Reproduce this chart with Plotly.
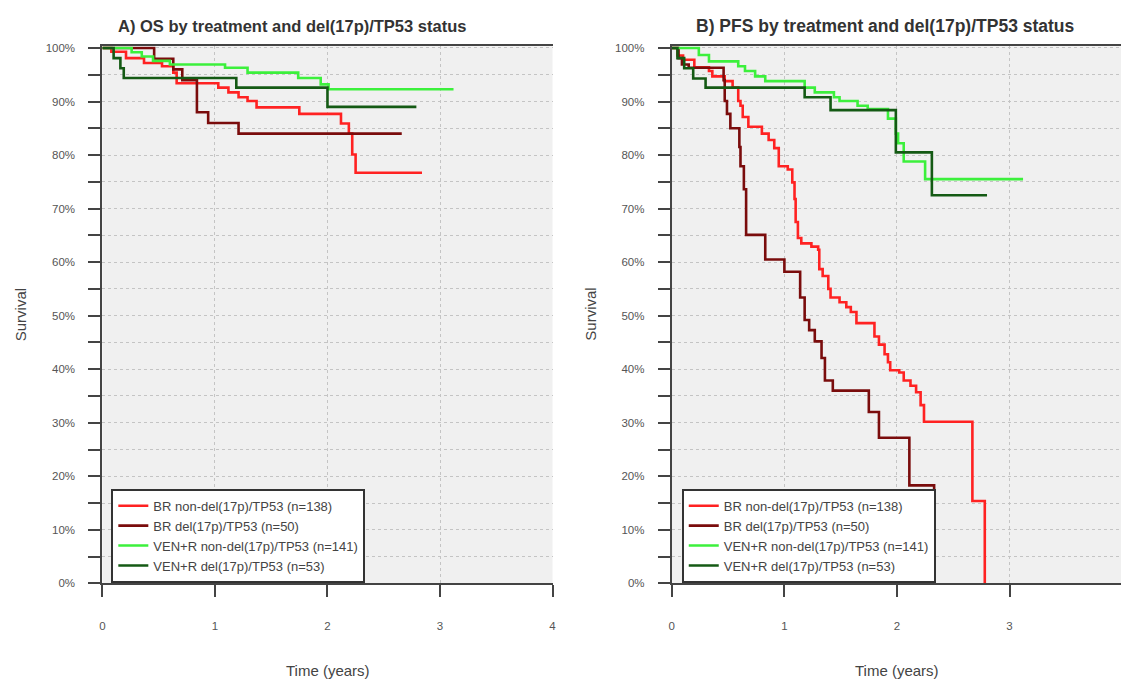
import plotly.graph_objects as go

# ---------------- data ----------------
series_names = [
    "BR non-del(17p)/TP53 (n=138)",
    "BR del(17p)/TP53 (n=50)",
    "VEN+R non-del(17p)/TP53 (n=141)",
    "VEN+R del(17p)/TP53 (n=53)",
]
series_colors = ["#ff2222", "#7a0c0c", "#3cf03c", "#145a14"]

# Panel A: OS (time in years, survival %)
os_br_nondel_t = [0, 0.08, 0.21, 0.37, 0.53, 0.63, 0.66, 1.03, 1.12, 1.21, 1.29, 1.37, 1.75, 2.12, 2.19, 2.22, 2.25, 2.84]
os_br_nondel_s = [100, 99.3, 98.1, 97.2, 96.6, 95.4, 93.4, 92.6, 91.7, 90.8, 90.1, 88.9, 87.7, 85.9, 84.0, 80.1, 76.7, 76.7]
os_br_del_t = [0, 0.46, 0.63, 0.71, 0.84, 0.94, 1.21, 2.66]
os_br_del_s = [100, 98.0, 96.0, 94.0, 88.0, 86.0, 84.0, 84.0]
os_ven_nondel_t = [0, 0.26, 0.35, 0.45, 0.60, 1.09, 1.29, 1.74, 1.94, 2.01, 3.12]
os_ven_nondel_s = [100, 99.2, 98.4, 97.6, 96.9, 96.3, 95.4, 94.4, 93.2, 92.3, 92.3]
os_ven_del_t = [0, 0.10, 0.16, 0.19, 1.19, 2.00, 2.79]
os_ven_del_s = [100, 98.1, 96.2, 94.4, 92.6, 89.0, 89.0]

# Panel B: PFS
pfs_br_nondel_t = [0, 0.05, 0.10, 0.20, 0.33, 0.36, 0.47, 0.54, 0.59, 0.61, 0.63, 0.68, 0.80, 0.86, 0.91,
                   0.95, 1.03, 1.07, 1.09, 1.10, 1.12, 1.15, 1.24, 1.30, 1.31, 1.34, 1.39, 1.41, 1.49, 1.55,
                   1.59, 1.64, 1.80, 1.84, 1.89, 1.92, 1.94, 2.02, 2.06, 2.12, 2.17, 2.21, 2.24, 2.67, 2.78]
pfs_br_nondel_s = [100, 98.6, 97.8, 96.4, 95.7, 94.7, 93.8, 92.6, 90.1, 89.2, 87.1, 85.3, 84.0, 82.8, 81.3,
                   77.9, 77.3, 74.9, 71.8, 67.5, 64.5, 63.5, 62.9, 62.3, 58.7, 57.4, 55.0, 53.4, 52.5, 51.6,
                   50.7, 48.6, 46.1, 44.6, 42.8, 41.3, 39.8, 39.4, 37.9, 36.9, 35.7, 33.3, 30.2, 15.4, 0]
pfs_br_del_t = [0, 0.06, 0.09, 0.15, 0.46, 0.47, 0.49, 0.52, 0.60, 0.61, 0.64, 0.66, 0.83, 1.00, 1.14,
                1.18, 1.22, 1.27, 1.33, 1.36, 1.43, 1.75, 1.84, 2.11, 2.33]
pfs_br_del_s = [100, 98.1, 96.9, 96.3, 94.0, 90.1, 87.7, 85.0, 81.5, 77.9, 73.6, 65.1, 60.5, 58.2, 53.4,
                49.2, 47.3, 45.2, 42.1, 37.9, 36.0, 32.0, 27.2, 18.3, 0]
pfs_ven_nondel_t = [0, 0.24, 0.33, 0.59, 0.65, 0.74, 0.83, 1.18, 1.27, 1.44, 1.49, 1.65, 1.74, 1.92, 1.99,
                    2.01, 2.06, 2.25, 3.12]
pfs_ven_nondel_s = [100, 98.7, 97.5, 96.6, 95.7, 94.7, 93.8, 92.6, 91.7, 90.8, 90.1, 89.2, 88.6, 86.8, 84.0,
                    82.2, 78.8, 75.5, 75.5]
pfs_ven_del_t = [0, 0.05, 0.11, 0.19, 0.30, 1.18, 1.41, 1.99, 2.31, 2.80]
pfs_ven_del_s = [100, 98.1, 96.2, 94.3, 92.6, 90.8, 88.4, 80.5, 72.5, 72.5]

x_ticks = [0, 1, 2, 3, 4]
y_ticks = list(range(0, 101, 5))
y_ticktext = [f"{v}%" if v % 10 == 0 else "" for v in y_ticks]

titles = ["A) OS by treatment and del(17p)/TP53 status", "B) PFS by treatment and del(17p)/TP53 status"]

panel_a = [(os_br_nondel_t, os_br_nondel_s), (os_br_del_t, os_br_del_s),
           (os_ven_nondel_t, os_ven_nondel_s), (os_ven_del_t, os_ven_del_s)]
panel_b = [(pfs_br_nondel_t, pfs_br_nondel_s), (pfs_br_del_t, pfs_br_del_s),
           (pfs_ven_nondel_t, pfs_ven_nondel_s), (pfs_ven_del_t, pfs_ven_del_s)]

# ---------------- figure ----------------
W, H = 1125, 682
FONT = "Liberation Sans, Arial, sans-serif"
fig = go.Figure()

for panel, (xa, ya, leg) in zip([panel_a, panel_b], [("x", "y", "legend"), ("x2", "y2", "legend2")]):
    for (t, s), name, color in zip(panel, series_names, series_colors):
        fig.add_trace(go.Scatter(
            x=t, y=s, mode="lines", name=name, line=dict(color=color, width=2.6, shape="hv"),
            xaxis=xa, yaxis=ya, legend=leg, showlegend=True))

y_bot = 1 - 588 / H
y_top = 1 - 43 / H

def xaxis_cfg(domain, rng):
    return dict(domain=domain, range=rng, tickvals=x_ticks, ticks="outside", ticklen=12, tickwidth=2,
                tickcolor="#444", showline=True, linecolor="#444", linewidth=2, mirror=True,
                showgrid=True, gridcolor="#c4c4c4", griddash="dot", gridwidth=1, zeroline=False,
                tickfont=dict(size=11.5, color="#555", family=FONT), ticklabelstandoff=19)

def yaxis_cfg(anchor):
    return dict(domain=[y_bot, y_top], range=[0, 100.3], tickvals=y_ticks, ticktext=y_ticktext,
                ticks="outside", ticklen=12, tickwidth=2, tickcolor="#444", showline=True,
                linecolor="#444", linewidth=2, showgrid=True, gridcolor="#c4c4c4", griddash="dot",
                gridwidth=1, zeroline=False, anchor=anchor,
                tickfont=dict(size=11.5, color="#555", family=FONT), ticklabelstandoff=11)

legend_common = dict(bgcolor="white", bordercolor="#333", borderwidth=2, xanchor="left", yanchor="top",
                     font=dict(size=13, color="#444", family=FONT), itemwidth=30, tracegroupgap=0)

def note(text, x, y, size, color="#444", angle=0):
    return dict(text=text, x=x / W, y=1 - y / H, xref="paper", yref="paper", xanchor="center",
                yanchor="middle", showarrow=False, textangle=angle,
                font=dict(size=size, color=color, family=FONT))

fig.update_layout(
    width=W, height=H, margin=dict(l=0, r=0, t=0, b=0),
    paper_bgcolor="white", plot_bgcolor="#f0f0f0",
    font=dict(family=FONT, color="#333"),
    xaxis=xaxis_cfg([100 / W, 553 / W], [0, 4]),
    yaxis=yaxis_cfg("x"),
    xaxis2=dict(xaxis_cfg([673 / W, 1.0], [0, 3.99]), anchor="y2"),
    yaxis2=yaxis_cfg("x2"),
    legend=dict(legend_common, x=109 / W, y=1 - 492 / H),
    legend2=dict(legend_common, x=683 / W, y=1 - 492 / H),
    annotations=[
        note(f"<b>{titles[0]}</b>", 291, 22, 16.5, "#333"),
        note(f"<b>{titles[1]}</b>", 888, 22, 17.5, "#333"),
        note("Time (years)", 327, 676, 15),
        note("Time (years)", 900, 676, 15),
        note("Survival", 17, 315, 15, angle=-90),
        note("Survival", 591, 315, 15, angle=-90),
    ],
)

fig.write_html("out.html")
